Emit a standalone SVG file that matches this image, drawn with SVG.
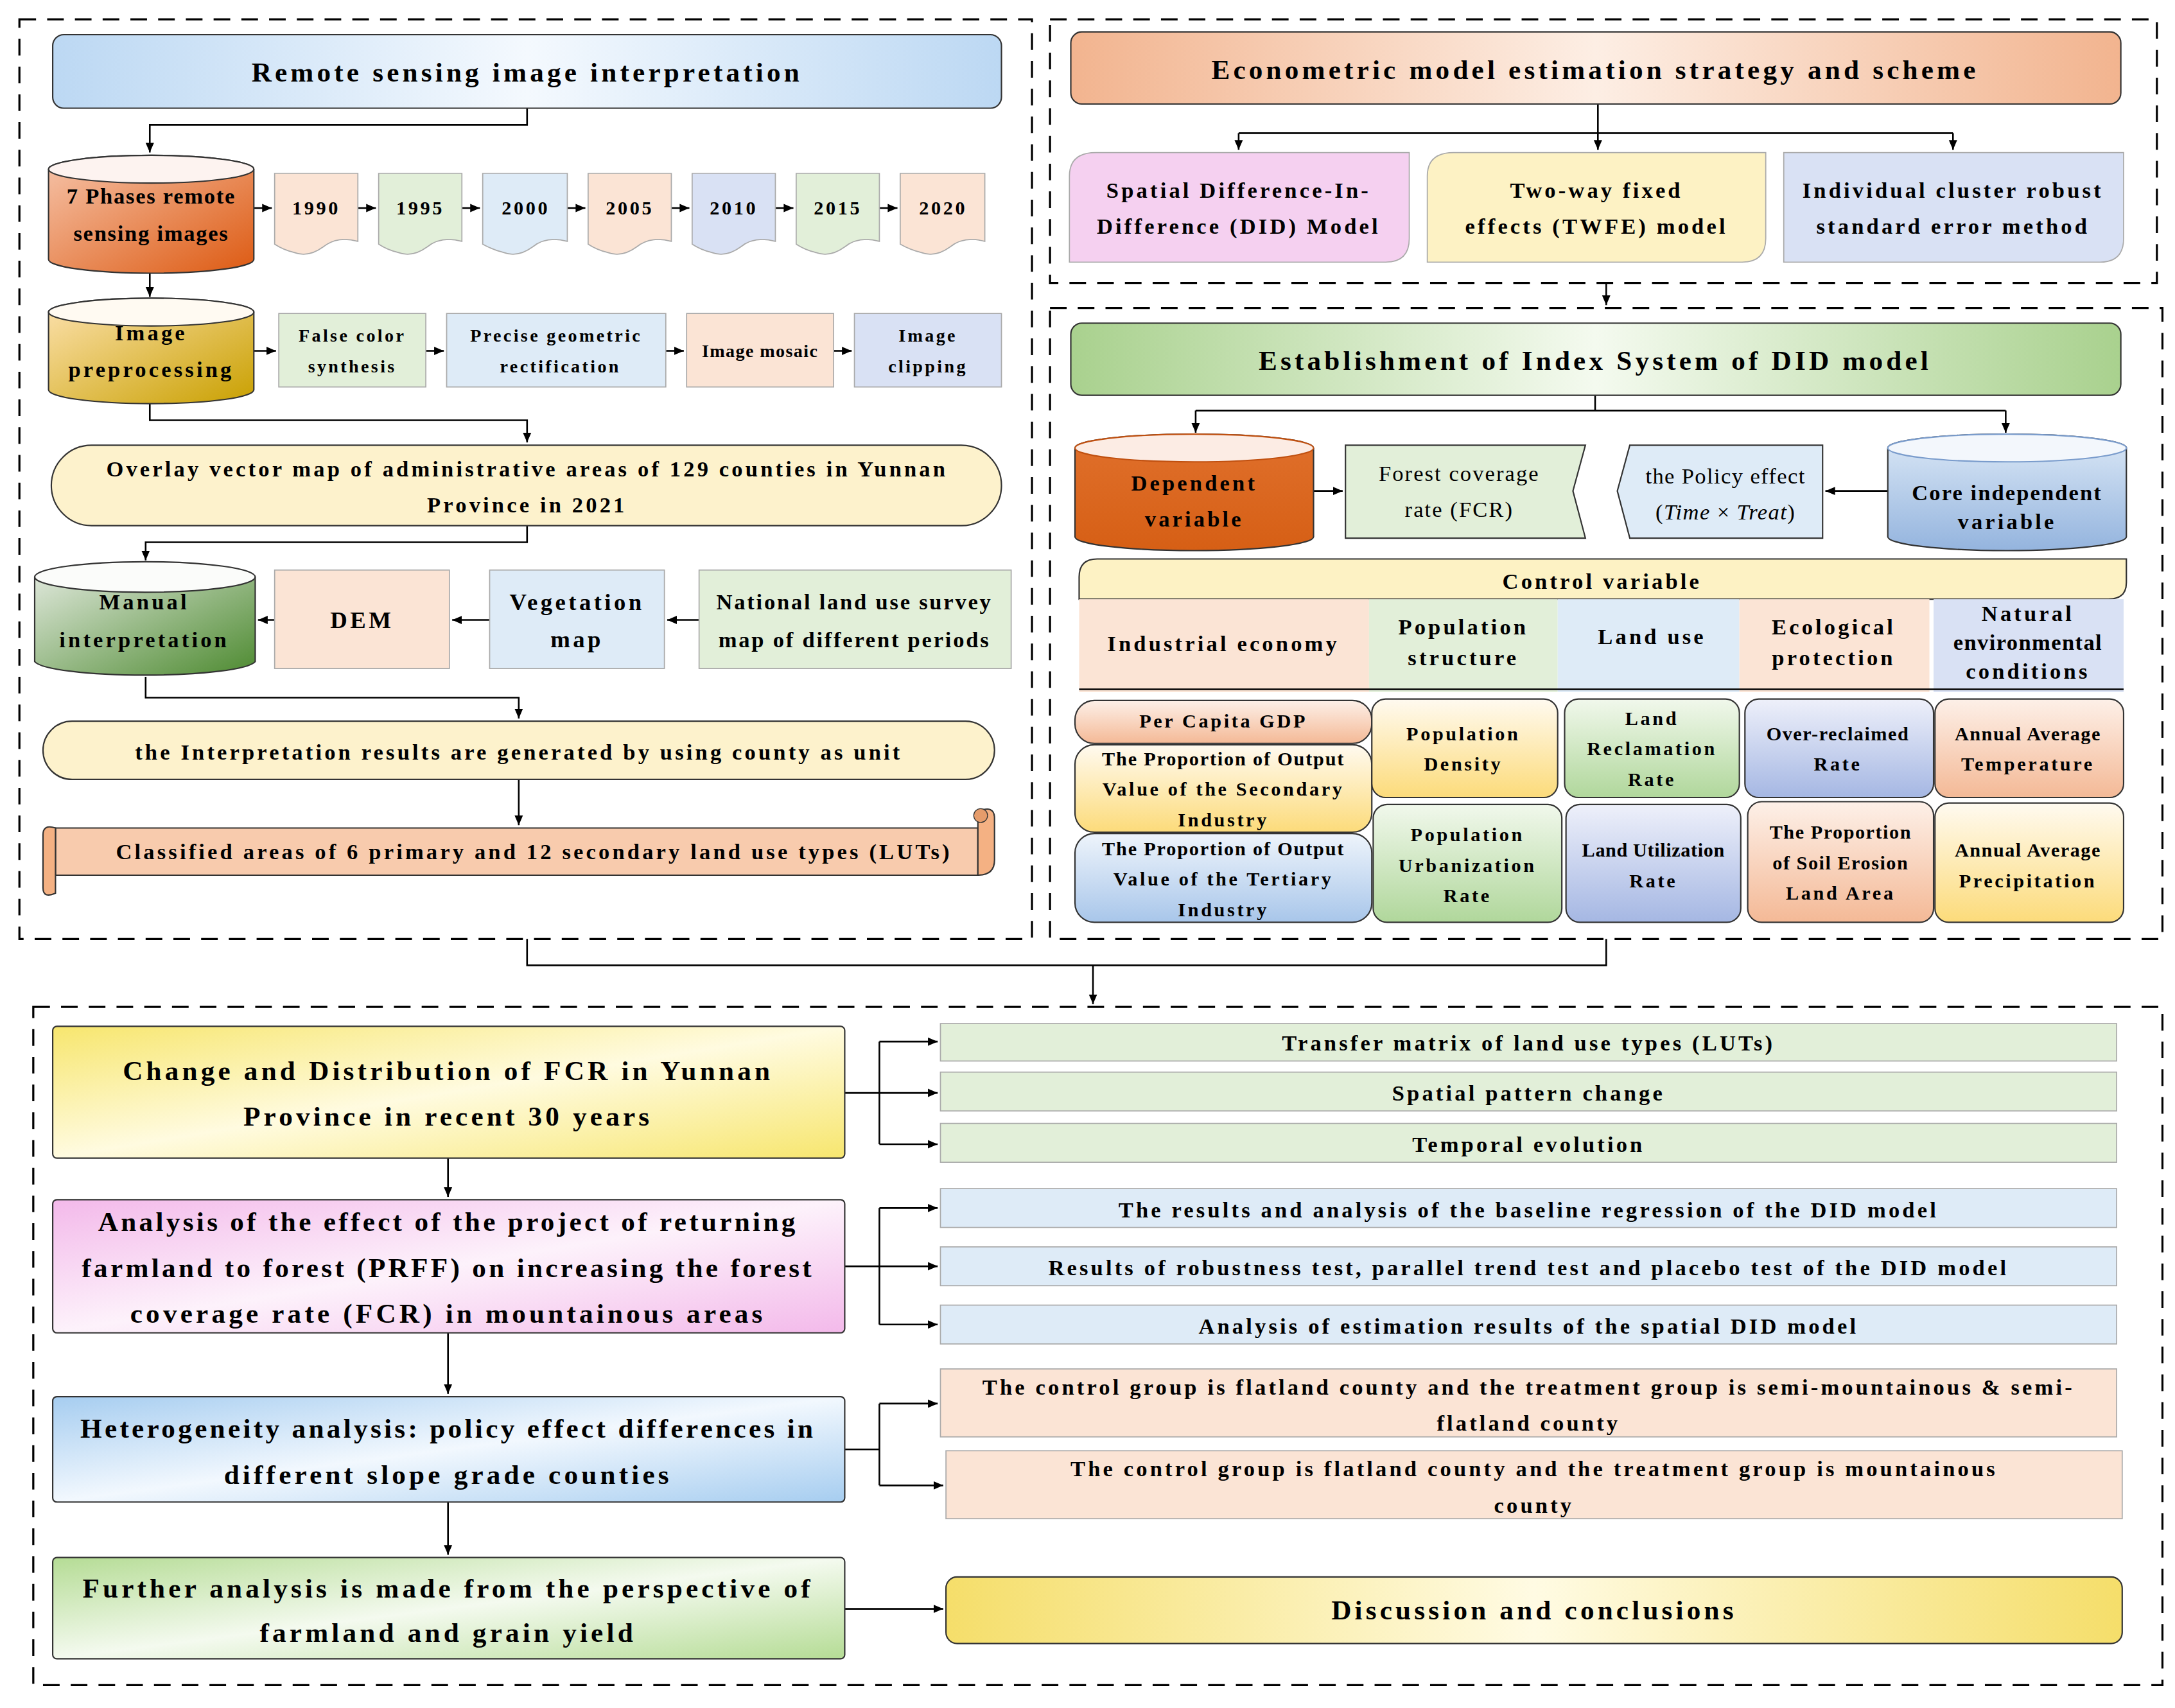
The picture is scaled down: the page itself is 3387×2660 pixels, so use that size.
<svg xmlns="http://www.w3.org/2000/svg" width="3387" height="2660" viewBox="0 0 3387 2660">
<defs>
<marker id="ar" markerWidth="8" markerHeight="8" refX="7" refY="4" orient="auto" markerUnits="userSpaceOnUse"><path d="M0,1 L7,4 L0,7 Z" fill="#000"/></marker>
<linearGradient id="gBlueH" x1="0" y1="0" x2="1" y2="0"><stop offset="0" stop-color="#bcd8f3"/><stop offset="0.5" stop-color="#f4f9fe"/><stop offset="1" stop-color="#bcd8f3"/></linearGradient>
<linearGradient id="gPeachH" x1="0" y1="0" x2="1" y2="0"><stop offset="0" stop-color="#f2b48f"/><stop offset="0.5" stop-color="#fdeee4"/><stop offset="1" stop-color="#f2b48f"/></linearGradient>
<linearGradient id="gGreenH" x1="0" y1="0" x2="1" y2="0"><stop offset="0" stop-color="#a9d18e"/><stop offset="0.5" stop-color="#f4faef"/><stop offset="1" stop-color="#a9d18e"/></linearGradient>
<linearGradient id="gYelH" x1="0" y1="0" x2="1" y2="0"><stop offset="0" stop-color="#f5de6a"/><stop offset="0.5" stop-color="#fffbe3"/><stop offset="1" stop-color="#f5de6a"/></linearGradient>
<linearGradient id="cRed" x1="0" y1="0" x2="1" y2="1"><stop offset="0" stop-color="#f6c4aa"/><stop offset="1" stop-color="#dd5a12"/></linearGradient>
<linearGradient id="cGold" x1="0" y1="0" x2="1" y2="1"><stop offset="0" stop-color="#fde2b0"/><stop offset="1" stop-color="#c9a000"/></linearGradient>
<linearGradient id="cGreen" x1="0" y1="0" x2="1" y2="1"><stop offset="0" stop-color="#e6ece3"/><stop offset="1" stop-color="#4d8a30"/></linearGradient>
<linearGradient id="cOrange" x1="0" y1="0" x2="0" y2="1"><stop offset="0" stop-color="#e0702c"/><stop offset="1" stop-color="#d65f15"/></linearGradient>
<linearGradient id="cBlue" x1="0" y1="0" x2="0" y2="1"><stop offset="0" stop-color="#dbe8f6"/><stop offset="1" stop-color="#94b4de"/></linearGradient>
<linearGradient id="vPeach" x1="0" y1="0" x2="0" y2="1"><stop offset="0" stop-color="#fdf0e8"/><stop offset="1" stop-color="#f4b996"/></linearGradient>
<linearGradient id="vYel" x1="0" y1="0" x2="0" y2="1"><stop offset="0" stop-color="#fffaf0"/><stop offset="1" stop-color="#fcdb7a"/></linearGradient>
<linearGradient id="vBlue" x1="0" y1="0" x2="0" y2="1"><stop offset="0" stop-color="#eef4fb"/><stop offset="1" stop-color="#a8c6ea"/></linearGradient>
<linearGradient id="vGreen" x1="0" y1="0" x2="0" y2="1"><stop offset="0" stop-color="#f1f8ec"/><stop offset="1" stop-color="#b0d79b"/></linearGradient>
<linearGradient id="vLav" x1="0" y1="0" x2="0" y2="1"><stop offset="0" stop-color="#eef0fa"/><stop offset="1" stop-color="#a5b7e3"/></linearGradient>
<linearGradient id="bYel" x1="0" y1="0" x2="1" y2="1"><stop offset="0" stop-color="#f7e66e"/><stop offset="0.5" stop-color="#fffbe0"/><stop offset="1" stop-color="#f7e66e"/></linearGradient>
<linearGradient id="bPink" x1="0" y1="0" x2="1" y2="1"><stop offset="0" stop-color="#f3b9ea"/><stop offset="0.5" stop-color="#fdf2fb"/><stop offset="1" stop-color="#f3b9ea"/></linearGradient>
<linearGradient id="bBlue" x1="0" y1="0" x2="1" y2="1"><stop offset="0" stop-color="#a6cdf0"/><stop offset="0.5" stop-color="#f2f8fe"/><stop offset="1" stop-color="#a6cdf0"/></linearGradient>
<linearGradient id="bGreen" x1="0" y1="0" x2="1" y2="1"><stop offset="0" stop-color="#b5dc95"/><stop offset="0.5" stop-color="#f4faef"/><stop offset="1" stop-color="#b5dc95"/></linearGradient>
</defs>
<style>
text{font-family:"Liberation Serif","Times New Roman",serif;font-weight:bold;fill:#000;text-anchor:middle;dominant-baseline:central;letter-spacing:0.12em}
.t20{font-size:20px}.t15{font-size:15px}.t14{font-size:14px}.t13{font-size:13px}.t17{font-size:17px}.t16{font-size:16px}.t18{font-size:18px}
.n{font-weight:normal}
.ln{fill:none;stroke:#000;stroke-width:1.2}
.ar{fill:none;stroke:#000;stroke-width:1.2;marker-end:url(#ar)}
.dash{fill:none;stroke:#000;stroke-width:1.5;stroke-dasharray:12,8}
.bx{stroke:#aaa;stroke-width:0.8}
.ob{stroke:#333;stroke-width:1}
</style>
<rect width="3387" height="2660" fill="#fff"/>
<g transform="scale(2.16)">
<g id="frames">
<rect class="dash" x="14" y="14" width="730" height="663"/>
<rect class="dash" x="757" y="14" width="798" height="190"/>
<rect class="dash" x="757" y="222" width="802" height="455"/>
<rect class="dash" x="24" y="726" width="1535" height="489"/>
</g>
<g id="connectors">
<path class="ln" d="M380,677 V696 H1158 V677"/>
<path class="ar" d="M788,696 V724"/>
<path class="ar" d="M1158,204 V220"/>
<path class="ar" d="M380,78 V90 H108 V110"/>
<path class="ar" d="M183,150 H196"/><path class="ar" d="M258,150 H271"/><path class="ar" d="M333,150 H346"/><path class="ar" d="M409,150 H422"/><path class="ar" d="M484,150 H497"/><path class="ar" d="M559,150 H572"/><path class="ar" d="M634,150 H647"/>
<path class="ar" d="M108,197 V214"/>
<path class="ar" d="M183,253 H199"/><path class="ar" d="M307,253 H320"/><path class="ar" d="M480,253 H493"/><path class="ar" d="M601,253 H614"/>
<path class="ar" d="M108,291 V303 H380 V319"/>
<path class="ar" d="M380,379 V391 H105 V404"/>
<path class="ar" d="M324,447 H186"/><path class="ar" d="M353,447 H326"/><path class="ar" d="M504,447 H481"/>
<path class="ar" d="M105,488 V503 H374 V518"/>
<path class="ar" d="M374,562 V595"/>
<path class="ln" d="M1152,75 V96 M893,96 H1408"/>
<path class="ar" d="M893,96 V108"/><path class="ar" d="M1152,96 V108"/><path class="ar" d="M1408,96 V108"/>
<path class="ln" d="M1150,285 V296 M862,296 H1446"/>
<path class="ar" d="M862,296 V312"/><path class="ar" d="M1446,296 V312"/>
<path class="ar" d="M947,354 H968"/><path class="ar" d="M1361,354 H1316"/>
<path class="ln" d="M609,788 H634 M634,751 V825"/>
<path class="ar" d="M634,751 H676"/><path class="ar" d="M634,788 H676"/><path class="ar" d="M634,825 H676"/>
<path class="ar" d="M323,835 V863"/>
<path class="ln" d="M609,913 H634 M634,871 V955"/>
<path class="ar" d="M634,871 H676"/><path class="ar" d="M634,913 H676"/><path class="ar" d="M634,955 H676"/>
<path class="ar" d="M323,961 V1005"/>
<path class="ln" d="M609,1045 H634 M634,1012 V1071"/>
<path class="ar" d="M634,1012 H676"/><path class="ar" d="M634,1071 H680"/>
<path class="ar" d="M323,1083 V1121"/>
<path class="ar" d="M609,1160 H680"/>
</g>
<g id="n_rs"><rect class="ob" x="38" y="25" width="684" height="53" rx="8" fill="url(#gBlueH)"/><text class="t20" x="380" y="52">Remote sensing image interpretation</text></g>
<g id="n_7ph"><path class="ob" d="M35,122 A74,10 0 0 1 183,122 V187 A74,10 0 0 1 35,187 Z" fill="url(#cRed)"/><ellipse class="ob" cx="109" cy="122" rx="74" ry="10" fill="#fdf3f0"/><text class="t16" x="109" y="141" style="letter-spacing:0.05em">7 Phases remote</text><text class="t16" x="109" y="168" style="letter-spacing:0.05em">sensing images</text></g>
<g id="n_years">
<path class="bx" d="M198,125 H258 V174 Q243,170 233,178 Q222,186 212,182 Q204,180 198,176 Z" fill="#fbe4d5"/><text class="t14" x="228" y="150">1990</text>
<path class="bx" d="M273,125 H333 V174 Q318,170 308,178 Q297,186 287,182 Q279,180 273,176 Z" fill="#e2efd9"/><text class="t14" x="303" y="150">1995</text>
<path class="bx" d="M348,125 H409 V174 Q394,170 384,178 Q373,186 363,182 Q355,180 348,176 Z" fill="#deebf7"/><text class="t14" x="379" y="150">2000</text>
<path class="bx" d="M424,125 H484 V174 Q469,170 459,178 Q448,186 438,182 Q430,180 424,176 Z" fill="#fbe4d5"/><text class="t14" x="454" y="150">2005</text>
<path class="bx" d="M499,125 H559 V174 Q544,170 534,178 Q523,186 513,182 Q505,180 499,176 Z" fill="#d9e1f4"/><text class="t14" x="529" y="150">2010</text>
<path class="bx" d="M574,125 H634 V174 Q619,170 609,178 Q598,186 588,182 Q580,180 574,176 Z" fill="#e2efd9"/><text class="t14" x="604" y="150">2015</text>
<path class="bx" d="M649,125 H710 V174 Q695,170 685,178 Q674,186 664,182 Q656,180 649,176 Z" fill="#fbe4d5"/><text class="t14" x="680" y="150">2020</text>
</g>
<g id="n_pre"><path class="ob" d="M35,225 A74,10 0 0 1 183,225 V281 A74,10 0 0 1 35,281 Z" fill="url(#cGold)"/><ellipse class="ob" cx="109" cy="225" rx="74" ry="10" fill="#fffaf2"/><text class="t16" x="109" y="240">Image</text><text class="t16" x="109" y="266">preprocessing</text></g>
<g id="n_fcs"><rect class="bx" x="201" y="226" width="106" height="53" fill="#e2efd9"/><text class="t13" x="254" y="242">False color</text><text class="t13" x="254" y="264">synthesis</text></g>
<g id="n_pgr"><rect class="bx" x="322" y="226" width="158" height="53" fill="#deebf7"/><text class="t13" x="401" y="242">Precise geometric</text><text class="t13" x="404" y="264">rectification</text></g>
<g id="n_mos"><rect class="bx" x="495" y="226" width="106" height="53" fill="#fbe4d5"/><text class="t13" x="548" y="253" style="letter-spacing:0.05em">Image mosaic</text></g>
<g id="n_clip"><rect class="bx" x="616" y="226" width="106" height="53" fill="#d9e1f4"/><text class="t13" x="669" y="242">Image</text><text class="t13" x="669" y="264">clipping</text></g>
<g id="n_ovl"><rect class="ob" x="37" y="321" width="685" height="58" rx="29" fill="#fdf2cc" stroke="#b8a860"/><text class="t16" x="380" y="338">Overlay vector map of administrative areas of 129 counties in Yunnan</text><text class="t16" x="380" y="364">Province in 2021</text></g>
<g id="n_man"><path class="ob" d="M25,416 A80,11 0 0 1 184,416 V477 A80,11 0 0 1 25,477 Z" fill="url(#cGreen)"/><ellipse class="ob" cx="104.5" cy="416" rx="79.5" ry="11" fill="#fbfcfa"/><text class="t16" x="104" y="434">Manual</text><text class="t16" x="104" y="461">interpretation</text></g>
<g id="n_dem"><rect class="bx" x="198" y="411" width="126" height="71" fill="#fbe4d5"/><text class="t17" x="261" y="447">DEM</text></g>
<g id="n_veg"><rect class="bx" x="353" y="411" width="126" height="71" fill="#deebf7"/><text class="t17" x="416" y="434">Vegetation</text><text class="t17" x="416" y="461">map</text></g>
<g id="n_nat"><rect class="bx" x="504" y="411" width="225" height="71" fill="#e2efd9"/><text class="t16" x="616" y="434" style="letter-spacing:0.08em">National land use survey</text><text class="t16" x="616" y="461" style="letter-spacing:0.08em">map of different periods</text></g>
<g id="n_int"><rect class="ob" x="31" y="520" width="686" height="42" rx="21" fill="#fdf2cc" stroke="#b8a860"/><text class="t16" x="374" y="542">the Interpretation results are generated by using county as unit</text></g>
<g id="n_cls"><path class="ob" d="M40,597 H705 V631 H40 Z" fill="#f8cbad"/><path class="ob" d="M31,602 Q31,594 40,597 V644 Q31,648 31,640 Z" fill="#f4b183"/><path class="ob" d="M705,585 Q717,580 717,590 V620 Q717,631 705,631 Z" fill="#f4b183"/><circle cx="707" cy="588" r="5" fill="#e59c6b" stroke="#333" stroke-width="0.6"/><text class="t16" x="385" y="614">Classified areas of 6 primary and 12 secondary land use types (LUTs)</text></g>
<g id="n_eco"><rect class="ob" x="772" y="23" width="757" height="52" rx="8" fill="url(#gPeachH)"/><text class="t20" x="1150" y="50">Econometric model estimation strategy and scheme</text></g>
<g id="n_sdid"><path class="bx" d="M790,110 H1016 V172 Q1016,189 999,189 H771 V127 Q771,110 790,110 Z" fill="#f5d0f0"/><text class="t16" x="893" y="137">Spatial Difference-In-</text><text class="t16" x="893" y="163">Difference (DID) Model</text></g>
<g id="n_twfe"><path class="bx" d="M1048,110 H1273 V172 Q1273,189 1256,189 H1029 V127 Q1029,110 1048,110 Z" fill="#fdf2c4"/><text class="t16" x="1151" y="137">Two-way fixed</text><text class="t16" x="1151" y="163">effects (TWFE) model</text></g>
<g id="n_ind"><path class="bx" d="M1286,110 H1531 V172 Q1531,189 1514,189 H1286 Z" fill="#d9e1f4"/><text class="t16" x="1408" y="137">Individual cluster robust</text><text class="t16" x="1408" y="163">standard error method</text></g>
<g id="n_est"><rect class="ob" x="772" y="233" width="757" height="52" rx="8" fill="url(#gGreenH)"/><text class="t20" x="1150" y="260">Establishment of Index System of DID model</text></g>
<g id="n_dep"><path class="ob" d="M775,323 A86,10 0 0 1 947,323 V387 A86,10 0 0 1 775,387 Z" fill="url(#cOrange)" stroke="#c05010"/><ellipse cx="861" cy="323" rx="86" ry="10" fill="#fcece4" stroke="#c05010"/><text class="t16" x="861" y="348">Dependent</text><text class="t16" x="861" y="374">variable</text></g>
<g id="n_fcr"><path class="ob" d="M970,321 H1143 L1134,354 L1143,388 H970 Z" fill="#e2efd9"/><text class="t16 n" x="1052" y="341" style="letter-spacing:0.06em">Forest coverage</text><text class="t16 n" x="1052" y="367" style="letter-spacing:0.06em">rate (FCR)</text></g>
<g id="n_pol"><path class="ob" d="M1175,321 H1314 V388 H1175 L1166,354 Z" fill="#deebf7"/><text class="t16 n" x="1244" y="343" style="letter-spacing:0.04em">the Policy effect</text><text class="t16 n" x="1244" y="369" style="letter-spacing:0.04em">(<tspan font-style="italic">Time</tspan> × <tspan font-style="italic">Treat</tspan>)</text></g>
<g id="n_core"><path class="ob" d="M1361,323 A86,10 0 0 1 1533,323 V387 A86,10 0 0 1 1361,387 Z" fill="url(#cBlue)" stroke="#7a9ccc"/><ellipse cx="1447" cy="323" rx="86" ry="10" fill="#f3f7fc" stroke="#7a9ccc"/><text class="t16" x="1447" y="355" style="letter-spacing:0.06em">Core independent</text><text class="t16" x="1447" y="376">variable</text></g>
<g id="n_ctrl"><path class="ob" d="M778,432 V416 Q778,403 791,403 H1533 V420 Q1533,432 1520,432 Z" fill="#fdf2c4"/><text class="t16" x="1155" y="419">Control variable</text></g>
<g id="n_hdr">
<rect x="778" y="432" width="209" height="67" fill="#fbe4d5"/><text class="t16" x="882" y="464">Industrial economy</text>
<rect x="987" y="432" width="136" height="67" fill="#e2efd9"/><text class="t16" x="1055" y="452">Population</text><text class="t16" x="1055" y="474">structure</text>
<rect x="1123" y="432" width="131" height="67" fill="#deebf7"/><text class="t16" x="1191" y="459">Land use</text>
<rect x="1254" y="432" width="137" height="67" fill="#fbe4d5"/><text class="t16" x="1322" y="452">Ecological</text><text class="t16" x="1322" y="474">protection</text>
<rect x="1394" y="432" width="137" height="67" fill="#d9e1f4"/><text class="t16" x="1462" y="442">Natural</text><text class="t16" x="1462" y="463" style="letter-spacing:0.04em">environmental</text><text class="t16" x="1462" y="484">conditions</text>
<path class="ln" d="M778,497 H1531" stroke-width="0.8"/>
</g>
<g id="n_cells">
<rect class="ob" x="775" y="505" width="214" height="31" rx="14" fill="url(#vPeach)"/><text class="t14" x="882" y="520">Per Capita GDP</text>
<rect class="ob" x="775" y="537" width="214" height="63" rx="14" fill="url(#vYel)"/><text class="t14" x="882" y="547" style="letter-spacing:0.06em">The Proportion of Output</text><text class="t14" x="882" y="569">Value of the Secondary</text><text class="t14" x="882" y="591">Industry</text>
<rect class="ob" x="775" y="601" width="214" height="64" rx="14" fill="url(#vBlue)"/><text class="t14" x="882" y="612" style="letter-spacing:0.06em">The Proportion of Output</text><text class="t14" x="882" y="634">Value of the Tertiary</text><text class="t14" x="882" y="656">Industry</text>
<rect class="ob" x="989" y="504" width="134" height="71" rx="10" fill="url(#vYel)"/><text class="t14" x="1055" y="529">Population</text><text class="t14" x="1055" y="551">Density</text>
<rect class="ob" x="990" y="580" width="136" height="85" rx="10" fill="url(#vGreen)"/><text class="t14" x="1058" y="602">Population</text><text class="t14" x="1058" y="624">Urbanization</text><text class="t14" x="1058" y="646">Rate</text>
<rect class="ob" x="1128" y="504" width="126" height="71" rx="10" fill="url(#vGreen)"/><text class="t14" x="1191" y="518">Land</text><text class="t14" x="1191" y="540">Reclamation</text><text class="t14" x="1191" y="562">Rate</text>
<rect class="ob" x="1129" y="580" width="126" height="85" rx="10" fill="url(#vLav)"/><text class="t14" x="1192" y="613" style="letter-spacing:0.02em">Land Utilization</text><text class="t14" x="1192" y="635">Rate</text>
<rect class="ob" x="1258" y="504" width="136" height="71" rx="10" fill="url(#vLav)"/><text class="t14" x="1325" y="529" style="letter-spacing:0.05em">Over-reclaimed</text><text class="t14" x="1325" y="551">Rate</text>
<rect class="ob" x="1260" y="578" width="134" height="87" rx="10" fill="url(#vPeach)"/><text class="t14" x="1327" y="600" style="letter-spacing:0.05em">The Proportion</text><text class="t14" x="1327" y="622" style="letter-spacing:0.05em">of Soil Erosion</text><text class="t14" x="1327" y="644">Land Area</text>
<rect class="ob" x="1395" y="504" width="136" height="71" rx="10" fill="url(#vPeach)"/><text class="t14" x="1462" y="529" style="letter-spacing:0.05em">Annual Average</text><text class="t14" x="1462" y="551">Temperature</text>
<rect class="ob" x="1395" y="579" width="136" height="86" rx="10" fill="url(#vYel)"/><text class="t14" x="1462" y="613" style="letter-spacing:0.05em">Annual Average</text><text class="t14" x="1462" y="635">Precipitation</text>
</g>
<g id="n_b1"><rect class="ob" x="38" y="740" width="571" height="95" rx="3" fill="url(#bYel)"/><text class="t20" x="323" y="772">Change and Distribution of FCR in Yunnan</text><text class="t20" x="323" y="805">Province in recent 30 years</text></g>
<g id="n_b1r">
<rect class="bx" x="678" y="738" width="848" height="27" fill="#e2efd9"/><text class="t16" x="1102" y="752">Transfer matrix of land use types (LUTs)</text>
<rect class="bx" x="678" y="773" width="848" height="28" fill="#e2efd9"/><text class="t16" x="1102" y="788">Spatial pattern change</text>
<rect class="bx" x="678" y="810" width="848" height="28" fill="#e2efd9"/><text class="t16" x="1102" y="825">Temporal evolution</text>
</g>
<g id="n_b2"><rect class="ob" x="38" y="865" width="571" height="96" rx="3" fill="url(#bPink)"/><text class="t20" x="323" y="881" style="letter-spacing:0.1em">Analysis of the effect of the project of returning</text><text class="t20" x="323" y="914" style="letter-spacing:0.1em">farmland to forest (PRFF) on increasing the forest</text><text class="t20" x="323" y="947">coverage rate (FCR) in mountainous areas</text></g>
<g id="n_b2r">
<rect class="bx" x="678" y="857" width="848" height="28" fill="#deebf7"/><text class="t16" x="1102" y="872">The results and analysis of the baseline regression of the DID model</text>
<rect class="bx" x="678" y="899" width="848" height="28" fill="#deebf7"/><text class="t16" x="1102" y="914">Results of robustness test, parallel trend test and placebo test of the DID model</text>
<rect class="bx" x="678" y="941" width="848" height="28" fill="#deebf7"/><text class="t16" x="1102" y="956">Analysis of estimation results of the spatial DID model</text>
</g>
<g id="n_b3"><rect class="ob" x="38" y="1007" width="571" height="76" rx="3" fill="url(#bBlue)"/><text class="t20" x="323" y="1030" style="letter-spacing:0.1em">Heterogeneity analysis: policy effect differences in</text><text class="t20" x="323" y="1063">different slope grade counties</text></g>
<g id="n_b3r">
<rect class="bx" x="678" y="987" width="848" height="49" fill="#fbe4d5"/><text class="t16" x="1102" y="1000">The control group is flatland county and the treatment group is semi-mountainous &amp; semi-</text><text class="t16" x="1102" y="1026">flatland county</text>
<rect class="bx" x="682" y="1046" width="848" height="49" fill="#fbe4d5"/><text class="t16" x="1106" y="1059">The control group is flatland county and the treatment group is  mountainous</text><text class="t16" x="1106" y="1085">county</text>
</g>
<g id="n_b4"><rect class="ob" x="38" y="1123" width="571" height="73" rx="3" fill="url(#bGreen)"/><text class="t20" x="323" y="1145">Further analysis is made from the perspective of</text><text class="t20" x="323" y="1177">farmland and grain yield</text></g>
<g id="n_disc"><rect class="ob" x="682" y="1137" width="848" height="48" rx="8" fill="url(#gYelH)"/><text class="t20" x="1106" y="1161">Discussion and conclusions</text></g>
</g>
</svg>
